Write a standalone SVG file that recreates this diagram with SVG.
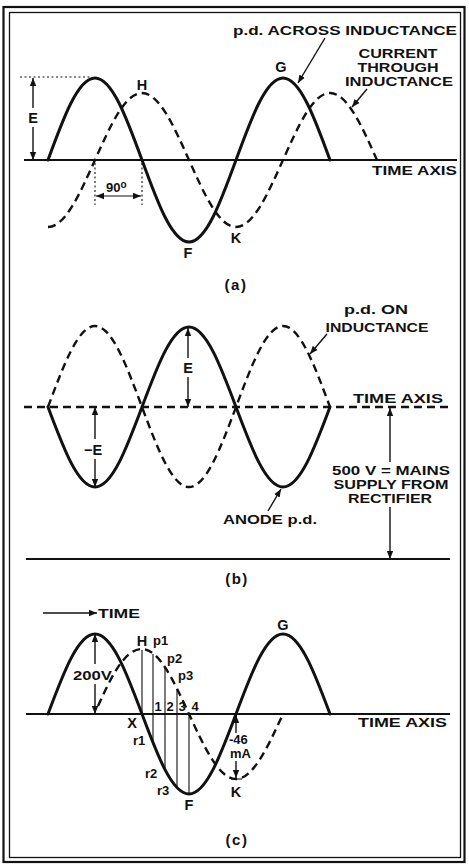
<svg xmlns="http://www.w3.org/2000/svg" width="469" height="866" viewBox="0 0 469 866">
<defs>
<style>
.t{font-family:"Liberation Sans",Arial,sans-serif;font-weight:bold;font-size:13px;fill:#111}
.L{font-size:14.5px}
.cap{font-size:15px;letter-spacing:1.5px}
.m{text-anchor:middle}
.e{text-anchor:end}
.sol{fill:none;stroke:#111;stroke-width:3;stroke-linejoin:round;stroke-linecap:round}
.das{fill:none;stroke:#111;stroke-width:2.4;stroke-dasharray:8 5}
.ax{fill:none;stroke:#111;stroke-width:1.8}
.thin{fill:none;stroke:#111;stroke-width:1.1}
.dot{fill:none;stroke:#111;stroke-width:1.1;stroke-dasharray:2 2.5}
.arr{fill:none;stroke:#111;stroke-width:1.4;marker-end:url(#ah)}
</style>
<marker id="ah" viewBox="0 0 10 8" refX="10" refY="4" markerWidth="8" markerHeight="8" markerUnits="userSpaceOnUse" orient="auto-start-reverse"><path d="M0,0 L10,4 L0,8 z" fill="#111"/></marker>
</defs>
<rect width="469" height="866" fill="#fff"/>
<g id="frame" fill="none" stroke="#111">
<rect x="3.5" y="7" width="461" height="855" stroke-width="2.2"/>
<rect x="9.5" y="12.5" width="451" height="845" stroke-width="1.3"/>
</g>

<!-- Panel (a) -->
<g id="panel-a">
<g id="a-axis"><path class="ax" d="M24,160 L457,160"/><text class="t e" x="457" y="175" textLength="85" lengthAdjust="spacingAndGlyphs">TIME AXIS</text></g>
<g id="a-pd"><path class="sol" d="M48,160 C63.33,118 77.99,78 95,78 C112.01,78 126.67,118 142,160 C157.33,202 171.99,242 189,242 C206.01,242 220.67,202 236,160 C251.33,118 265.99,78 283,78 C300.01,78 314.67,118 330,160"/></g>
<g id="a-current"><path class="das" d="M48,227 C65.01,227 79.67,194.3 95,160 C110.33,125.7 124.99,93 142,93 C159.01,93 173.67,125.7 189,160 C204.33,194.3 218.99,227 236,227 C253.01,227 267.67,194.3 283,160 C298.33,125.7 312.99,93 330,93 C347.01,93 361.67,125.7 377,160"/></g>
<g id="a-E"><path class="dot" d="M20,77 L92,77"/><text class="t L m" x="33" y="123" font-size="15">E</text></g>
<g id="a-H"><text class="t L m" x="142" y="90">H</text></g>
<g id="a-G"><text class="t L m" x="281" y="72">G</text></g>
<g id="a-F"><text class="t L m" x="188" y="258">F</text></g>
<g id="a-K"><text class="t L m" x="236" y="243">K</text></g>
<g id="a-90"><path class="dot" d="M95,163 L95,205 M142,163 L142,205"/><text class="t" x="106" y="192" font-size="13">90<tspan dy="-4" font-size="10">o</tspan></text></g>
<g id="a-lbl-pd"><text class="t" x="233" y="35" textLength="224" lengthAdjust="spacingAndGlyphs">p.d. ACROSS INDUCTANCE</text></g>
<g id="a-lbl-cur"><text class="t m" x="398" y="58" textLength="79" lengthAdjust="spacingAndGlyphs">CURRENT</text><text class="t m" x="398" y="72" textLength="81" lengthAdjust="spacingAndGlyphs">THROUGH</text><text class="t m" x="399" y="86" textLength="108" lengthAdjust="spacingAndGlyphs">INDUCTANCE</text></g>
<g id="a-cap"><text class="t cap m" x="236" y="290">(a)</text></g>
</g>

<!-- Panel (b) -->
<g id="panel-b">
<g id="b-axis"><path class="das" stroke-width="1.8" d="M24,407 L448,407"/><text class="t" x="353" y="403" textLength="90" lengthAdjust="spacingAndGlyphs">TIME  AXIS</text></g>
<g id="b-base"><path class="ax" stroke-width="2.2" d="M26,559 L450,559"/></g>
<g id="b-anode"><path class="sol" d="M48,407 C63.33,448 77.99,487 95,487 C112.01,487 126.67,448 142,407 C157.33,366 171.99,327 189,327 C206.01,327 220.67,366 236,407 C251.33,448 265.99,487 283,487 C300.01,487 314.67,448 330,407"/></g>
<g id="b-ind"><path class="das" d="M48,407 C63.33,366 77.99,326 95,326 C112.01,326 126.67,366 142,407 C157.33,448 171.99,487 189,487 C206.01,487 220.67,448 236,407 C251.33,366 265.99,326 283,326 C300.01,326 314.67,366 330,407"/></g>
<g id="b-E"><text class="t L m" x="188" y="373">E</text></g>
<g id="b-mE"><text class="t L m" x="93" y="455">−E</text></g>
<g id="b-lbl-pd"><text class="t m" x="376" y="314" textLength="64" lengthAdjust="spacingAndGlyphs">p.d.  ON</text><text class="t m" x="377" y="332" textLength="103" lengthAdjust="spacingAndGlyphs">INDUCTANCE</text></g>
<g id="b-lbl-mains"><text class="t m" x="391" y="475" textLength="118" lengthAdjust="spacingAndGlyphs">500 V = MAINS</text><text class="t m" x="391" y="489" textLength="115" lengthAdjust="spacingAndGlyphs">SUPPLY  FROM</text><text class="t m" x="390" y="503" textLength="84" lengthAdjust="spacingAndGlyphs">RECTIFIER</text></g>
<g id="b-lbl-anode"><text class="t" x="223" y="524" textLength="94" lengthAdjust="spacingAndGlyphs">ANODE  p.d.</text></g>
<g id="b-cap"><text class="t cap m" x="237" y="584">(b)</text></g>
</g>

<!-- Panel (c) -->
<g id="panel-c">
<g id="c-axis"><path class="ax" d="M26,714 L450,714"/><text class="t" x="358" y="727" textLength="89" lengthAdjust="spacingAndGlyphs">TIME AXIS</text></g>
<g id="c-time"><text class="t" x="98" y="618" textLength="42" lengthAdjust="spacingAndGlyphs">TIME</text></g>
<g id="c-ords"><path class="thin" d="M142,650 L142,714 M153,654 L153,743 M165,667 L165,770 M177,689 L177,788 M189,714 L189,794"/></g>
<g id="c-pd"><path class="sol" d="M48,714 C63.33,673 77.99,634 95,634 C112.01,634 126.67,673 142,714 C157.33,755 171.99,794 189,794 C206.01,794 220.67,755 236,714 C251.33,673 265.99,634 283,634 C300.01,634 314.67,673 330,714"/></g>
<g id="c-cur"><path class="das" d="M98,706 C112,675 125,649 142,649 C159.01,649 173.67,680.7 189,714 C204.33,747.3 218.99,779 236,779 C253.01,779 267.67,747.3 283,714"/></g>
<g id="c-200"><text class="t" x="73" y="680" textLength="39" lengthAdjust="spacingAndGlyphs">200V</text></g>
<g id="c-H"><text class="t L m" x="142" y="646">H</text></g>
<g id="c-p"><text class="t" x="153" y="645">p1</text><text class="t" x="167" y="663">p2</text><text class="t" x="178" y="680">p3</text></g>
<g id="c-n"><text class="t m" x="158" y="711" font-size="11.5">1</text><text class="t m" x="170" y="711" font-size="11.5">2</text><text class="t m" x="182" y="711" font-size="11.5">3</text><text class="t m" x="195" y="711" font-size="11.5">4</text></g>
<g id="c-X"><text class="t L m" x="132" y="728">X</text></g>
<g id="c-r"><text class="t" x="133" y="745">r1</text><text class="t" x="145" y="778">r2</text><text class="t" x="157" y="795">r3</text></g>
<g id="c-F"><text class="t L m" x="189" y="810">F</text></g>
<g id="c-K"><text class="t L m" x="236" y="797">K</text></g>
<g id="c-G"><text class="t L m" x="283" y="630">G</text></g>
<g id="c-46"><text class="t" x="229" y="744">-46</text><text class="t" x="230" y="758">mA</text></g>
<g id="c-cap"><text class="t cap m" x="237" y="845">(c)</text></g>
</g>

<g id="connectors">
<path class="arr" d="M33,108 L33,78"/>
<path class="arr" d="M33,127 L33,160"/>
<path class="thin" d="M96,196 L141,196" marker-start="url(#ah)" marker-end="url(#ah)"/>
<path class="arr" d="M325,38 L298,83"/>
<path class="arr" d="M367,89 L352,107"/>
<path class="arr" d="M188,358 L188,328"/>
<path class="arr" d="M188,377 L188,407"/>
<path class="arr" d="M95,439 L95,407"/>
<path class="arr" d="M95,459 L95,487"/>
<path class="arr" d="M327,334 L310,354"/>
<path class="arr" d="M390,462 L390,408"/>
<path class="arr" d="M390,507 L390,559"/>
<path class="arr" d="M268,511 L281,489"/>
<path class="arr" d="M43,613 L97,613"/>
<path class="arr" d="M95,664 L95,634"/>
<path class="arr" d="M95,684 L95,714"/>
<path class="arr" d="M236,733 L236,715"/>
<path class="arr" d="M236,761 L236,778"/>
<path class="thin" stroke-width="1.6" d="M231,779 L242,779"/>
</g>
</svg>
